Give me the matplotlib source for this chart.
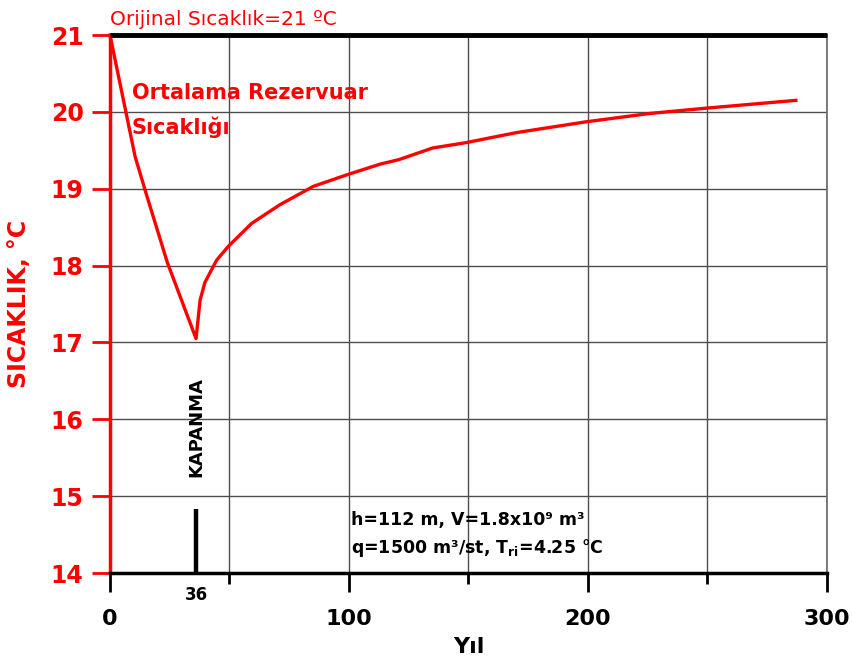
import matplotlib
matplotlib.use("Agg")
import matplotlib.pyplot as plt
from matplotlib.ticker import MultipleLocator

# ortalama rezervuar sicakligi (okunan degerler)
years = [0, 10.5, 15, 24, 36, 37.7, 39.7, 44.6, 49.5, 59.3, 71, 85, 99,
         113, 121, 135, 149, 170, 199, 226, 250, 287]
temps = [21, 19.42, 18.95, 18.04, 17.05, 17.55, 17.78, 18.07, 18.25,
         18.55, 18.79, 19.03, 19.18, 19.32, 19.38, 19.53, 19.60, 19.73,
         19.87, 19.98, 20.05, 20.15]

t_orig = 21
t_kapanma = 36
bar_top = 14.83
y_ticks = [14, 15, 16, 17, 18, 19, 20, 21]

fig = plt.figure(figsize=(8.52, 6.66), dpi=100)
ax = fig.add_axes([0.1291, 0.1396, 0.8415, 0.8078])

ax.set_xlim(0, 300)
ax.set_ylim(14, 21)

ax.xaxis.set_major_locator(MultipleLocator(100))
ax.xaxis.set_minor_locator(MultipleLocator(50))
ax.set_yticks(y_ticks)

ax.grid(True, which="both", color="0.3", lw=1.0)
ax.set_axisbelow(True)

ax.plot(years, temps, color="red", lw=2.4, zorder=3, clip_on=False)
ax.plot([0, 300], [t_orig, t_orig], color="black", lw=3.5, zorder=4,
        clip_on=False, solid_capstyle="butt")
ax.plot([t_kapanma, t_kapanma], [14, bar_top], color="black", lw=3.2,
        zorder=4, solid_capstyle="butt")

ax.spines["top"].set_visible(False)
ax.spines["left"].set_color("red")
ax.spines["left"].set_linewidth(2.5)
ax.spines["bottom"].set_color("black")
ax.spines["bottom"].set_linewidth(2.5)
ax.spines["right"].set_color("0.4")
ax.spines["right"].set_linewidth(1.2)

ax.tick_params(axis="y", which="major", direction="out", length=13, width=2,
               color="red", labelcolor="red", labelsize=17, pad=6)
ax.tick_params(axis="x", which="major", direction="out", length=14, width=2,
               color="black", labelsize=16, pad=12)
ax.tick_params(axis="x", which="minor", direction="out", length=8, width=2,
               color="black")
for lab in ax.get_yticklabels() + ax.get_xticklabels():
    lab.set_fontweight("bold")

ax.text(t_kapanma, -0.025, "36", transform=ax.get_xaxis_transform(),
        ha="center", va="top", fontsize=12, fontweight="bold")

ax.set_xlabel("Yıl", fontsize=16, fontweight="bold", labelpad=6)
ax.set_ylabel("SICAKLIK, °C", fontsize=17, fontweight="bold", color="red",
              labelpad=14)

ax.text(0, 21.08, "Orijinal Sıcaklık=21 ºC", color="red", fontsize=14.5,
        ha="left", va="bottom")
ax.text(9, 20.02, "Ortalama Rezervuar\nSıcaklığı", color="red", fontsize=15,
        fontweight="bold", ha="left", va="center", linespacing=1.75)
ax.text(t_kapanma, 15.9, "KAPANMA", rotation=90, fontsize=13,
        fontweight="bold", ha="center", va="center")
ax.text(101, 14.69, "h=112 m, V=1.8x10⁹ m³", fontsize=12.5, fontweight="bold",
        ha="left", va="center")
ax.text(101, 14.33, "q=1500 m³/st, T$_{\\mathbf{ri}}$=4.25 °C", fontsize=12.5,
        fontweight="bold", ha="left", va="center")

fig.savefig("out.png", dpi=100)
